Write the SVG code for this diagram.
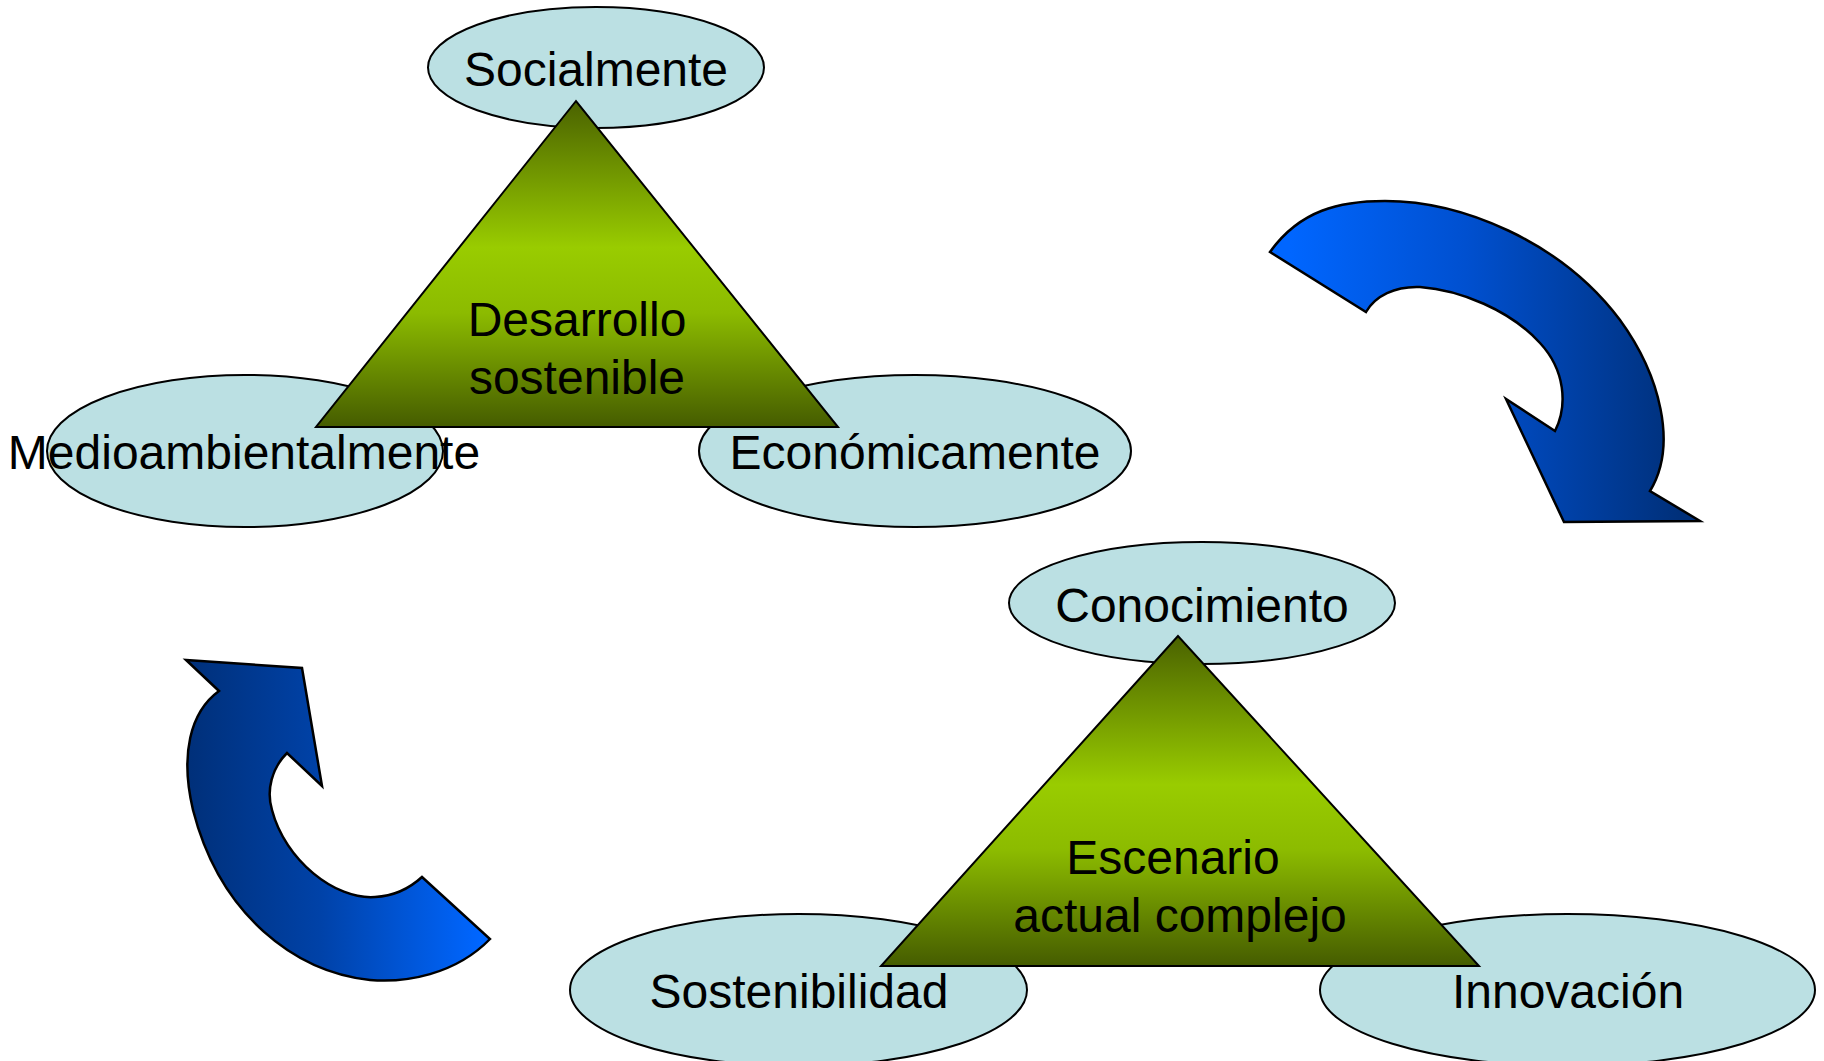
<svg xmlns="http://www.w3.org/2000/svg" width="1824" height="1061" viewBox="0 0 1824 1061">
<style>
.ell{fill:#bbe0e3;stroke:#000;stroke-width:2}
.tri{fill:url(#gTri);stroke:#000;stroke-width:2;stroke-linejoin:miter}
.arr{stroke:#000;stroke-width:2.5;stroke-linejoin:miter}
text{font-family:"Liberation Sans",Arial,sans-serif;font-size:48px;fill:#000;text-anchor:middle}
</style>
<defs>
<linearGradient id="gTri" x1="0" y1="0" x2="0" y2="1">
<stop offset="0" stop-color="#4a6200"/>
<stop offset="0.45" stop-color="#99cc00"/>
<stop offset="0.65" stop-color="#8cbb00"/>
<stop offset="1" stop-color="#455c00"/>
</linearGradient>
<linearGradient id="gArrR" gradientUnits="userSpaceOnUse" x1="1290" y1="0" x2="1680" y2="0">
<stop offset="0" stop-color="#0066ff"/>
<stop offset="0.45" stop-color="#0050d0"/>
<stop offset="1" stop-color="#00307a"/>
</linearGradient>
<linearGradient id="gArrL" gradientUnits="userSpaceOnUse" x1="190" y1="0" x2="480" y2="0">
<stop offset="0" stop-color="#00307a"/>
<stop offset="0.45" stop-color="#0042a8"/>
<stop offset="1" stop-color="#0066ff"/>
</linearGradient>
</defs>

<g id="connectors">
<path id="arrow-top-right" class="arr" fill="url(#gArrR)" d="M1270,252 C1300,210 1340,201 1385,201 C1460,201 1560,240 1620,320 C1660,375 1678,445 1650,491 L1700,521 L1564,522 L1506,399 L1555,431 C1568,405 1565,370 1540,343 C1510,310 1460,290 1420,287 C1395,286 1375,296 1366,312 Z"/>
<path id="arrow-bottom-left" class="arr" fill="url(#gArrL)" d="M490,939 C455,975 405,983 370,980 C295,972 220,915 193,810 C180,755 190,712 219,691 L186,660 L302,668 L322,786 L287,753 C272,768 266,790 272,810 C285,860 335,900 375,897 C395,896 410,888 422,877 Z"/>
</g>

<g id="node-socialmente">
<ellipse class="ell" cx="596" cy="67.5" rx="168" ry="60.5"/>
<text x="596" y="86">Socialmente</text>
</g>
<g id="node-medioambientalmente">
<ellipse class="ell" cx="245" cy="451" rx="198" ry="76"/>
<text x="244" y="469">Medioambientalmente</text>
</g>
<g id="node-economicamente">
<ellipse class="ell" cx="915" cy="451" rx="216" ry="76"/>
<text x="915" y="469">Económicamente</text>
</g>
<g id="node-desarrollo">
<polygon class="tri" points="576,101 316,427 838,427"/>
<text x="577" y="336">Desarrollo</text>
<text x="577" y="394">sostenible</text>
</g>

<g id="node-conocimiento">
<ellipse class="ell" cx="1202" cy="603" rx="193" ry="61"/>
<text x="1202" y="622">Conocimiento</text>
</g>
<g id="node-sostenibilidad">
<ellipse class="ell" cx="798.5" cy="990" rx="228.5" ry="76"/>
<text x="799" y="1008">Sostenibilidad</text>
</g>
<g id="node-innovacion">
<ellipse class="ell" cx="1567.5" cy="990" rx="247.5" ry="76"/>
<text x="1568" y="1008">Innovación</text>
</g>
<g id="node-escenario">
<polygon class="tri" points="1178,636 881,966 1479,966"/>
<text x="1173" y="874">Escenario</text>
<text x="1180" y="932">actual complejo</text>
</g>
</svg>
